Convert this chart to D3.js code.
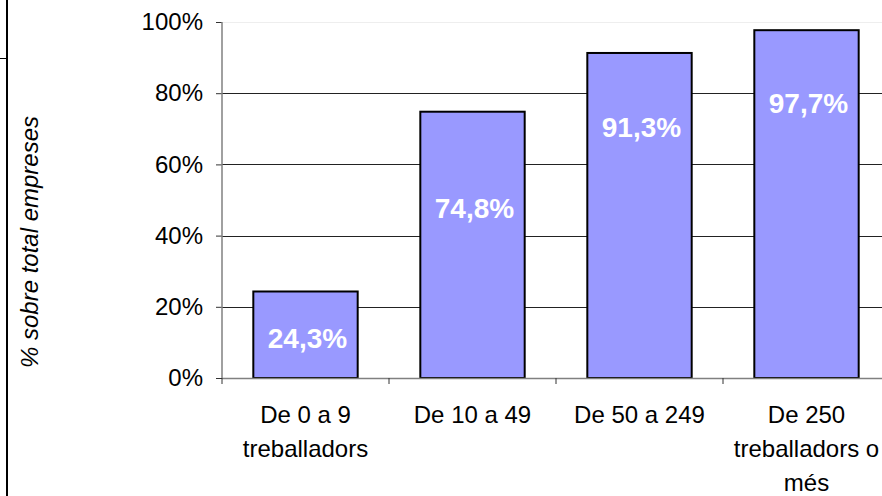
<!DOCTYPE html>
<html lang="ca">
    <head>
        <meta charset="utf-8">
        <title>Empreses per nombre de treballadors</title>
        <script src="https://d3js.org/d3.v7.min.js"></script>
        <style type="text/css">
            body {
                margin: 0;
                background: white;
            }
            svg {
                display: block;
                font-family: Arial, "Liberation Sans", sans-serif;
            }
            .tick-label, .cat-label {
                font-size: 24px;
                fill: #000;
            }
            .bar-label {
                font-size: 28px;
                font-weight: bold;
                fill: white;
            }
            .y-title {
                font-size: 24px;
                font-style: italic;
                fill: #000;
            }
        </style>
    </head>
    <body>
        <script type="text/javascript">
            //Width and height
            let w = 882;
            let h = 496;

            //Data
            let categories = ["De 0 a 9 treballadors", "De 10 a 49", "De 50 a 249", "De 250 treballadors o més"];
            let values = [0.243, 0.748, 0.913, 0.977];
            let valueLabels = ["24,3%", "74,8%", "91,3%", "97,7%"];
            // where each value label sits (in axis units)
            let labelAt = [0.112, 0.477, 0.704, 0.772];
            let yTicks = [0, 0.2, 0.4, 0.6, 0.8, 1];
            let yTitle = "% sobre total empreses";

            let plotLeft = 222, plotRight = 890, plotTop = 22, plotBottom = 378;

            let xScale = d3.scaleBand()
                            .domain(categories)
                            .range([plotLeft, plotRight])
                            .paddingInner(0.375)
                            .paddingOuter(0.1875);
            let yScale = d3.scaleLinear()
                            .domain([0, 1])
                            .range([plotBottom, plotTop]);
            let step = xScale.step();

            //Create SVG element
            let svg = d3.select("body")
                        .append("svg")
                        .attr("width", w)
                        .attr("height", h);

            //Frame line on the left
            svg.append("line")
               .attr("x1", 7).attr("x2", 7)
               .attr("y1", 0).attr("y2", h)
               .attr("stroke", "#000")
               .attr("stroke-width", 2);
            svg.append("line")
               .attr("x1", 0).attr("x2", 7)
               .attr("y1", 58.5).attr("y2", 58.5)
               .attr("stroke", "#000")
               .attr("stroke-width", 1);

            //Gridlines
            svg.selectAll(".grid")
               .data(yTicks.filter(d => d > 0))
               .enter()
               .append("line")
               .attr("class", "grid")
               .attr("x1", plotLeft)
               .attr("x2", w)
               .attr("y1", d => Math.round(yScale(d)) + 0.5)
               .attr("y2", d => Math.round(yScale(d)) + 0.5)
               .attr("stroke", d => d === 1 ? "#eeeeee" : "#222")
               .attr("stroke-width", 1);

            //Y axis
            let yAxis = d3.axisLeft(yScale)
                          .tickValues(yTicks)
                          .tickFormat(d3.format(".0%"))
                          .tickSize(6)
                          .tickPadding(13);
            let gy = svg.append("g")
                        .attr("transform", "translate(" + plotLeft + ",0)")
                        .call(yAxis)
                        .attr("font-family", null)
                        .attr("font-size", null);
            gy.select(".domain").remove();
            gy.selectAll(".tick line").attr("stroke", "#333");
            gy.selectAll(".tick text").attr("class", "tick-label");
            svg.append("line")
               .attr("x1", plotLeft).attr("x2", plotLeft)
               .attr("y1", plotTop).attr("y2", plotBottom)
               .attr("stroke", "#808080")
               .attr("stroke-width", 1.5);

            //Bars
            svg.selectAll("rect.bar")
               .data(values)
               .enter()
               .append("rect")
               .attr("class", "bar")
               .attr("x", (d, i) => xScale(categories[i]))
               .attr("y", d => yScale(d))
               .attr("width", xScale.bandwidth())
               .attr("height", d => plotBottom - yScale(d))
               .attr("fill", "#9999ff")
               .attr("stroke", "#000")
               .attr("stroke-width", 2);

            //X axis line and ticks between categories
            svg.append("line")
               .attr("x1", plotLeft).attr("x2", w)
               .attr("y1", plotBottom + 0.5).attr("y2", plotBottom + 0.5)
               .attr("stroke", "#808080")
               .attr("stroke-width", 1.5);
            svg.selectAll(".xtick")
               .data(d3.range(categories.length + 1))
               .enter()
               .append("line")
               .attr("class", "xtick")
               .attr("x1", i => plotLeft + i * step)
               .attr("x2", i => plotLeft + i * step)
               .attr("y1", plotBottom)
               .attr("y2", plotBottom + 6)
               .attr("stroke", "#333");

            //Value labels
            svg.selectAll(".bar-label")
               .data(valueLabels)
               .enter()
               .append("text")
               .attr("class", "bar-label")
               .attr("text-anchor", "middle")
               .attr("x", (d, i) => xScale(categories[i]) + xScale.bandwidth() / 2 + 2)
               .attr("y", (d, i) => yScale(labelAt[i]))
               .attr("dy", "0.36em")
               .text(d => d);

            //Category labels, wrapped to the band width
            let cat = svg.selectAll(".cat-label")
                         .data(categories)
                         .enter()
                         .append("text")
                         .attr("class", "cat-label")
                         .attr("text-anchor", "middle")
                         .attr("x", d => xScale(d) + xScale.bandwidth() / 2)
                         .attr("y", 423);
            cat.each(function(d) {
                let t = d3.select(this);
                let x = t.attr("x");
                let words = d.split(" ");
                let line = [];
                let tspan = t.append("tspan").attr("x", x).attr("dy", 0);
                words.forEach(word => {
                    line.push(word);
                    tspan.text(line.join(" "));
                    if (tspan.node().getComputedTextLength() > step - 2 && line.length > 1) {
                        line.pop();
                        tspan.text(line.join(" "));
                        line = [word];
                        tspan = t.append("tspan").attr("x", x).attr("dy", 34).text(word);
                    }
                });
            });

            //Y axis title
            svg.append("text")
               .attr("class", "y-title")
               .attr("transform", "translate(38,242) rotate(-90)")
               .attr("text-anchor", "middle")
               .text(yTitle);
        </script>
    </body>
</html>
